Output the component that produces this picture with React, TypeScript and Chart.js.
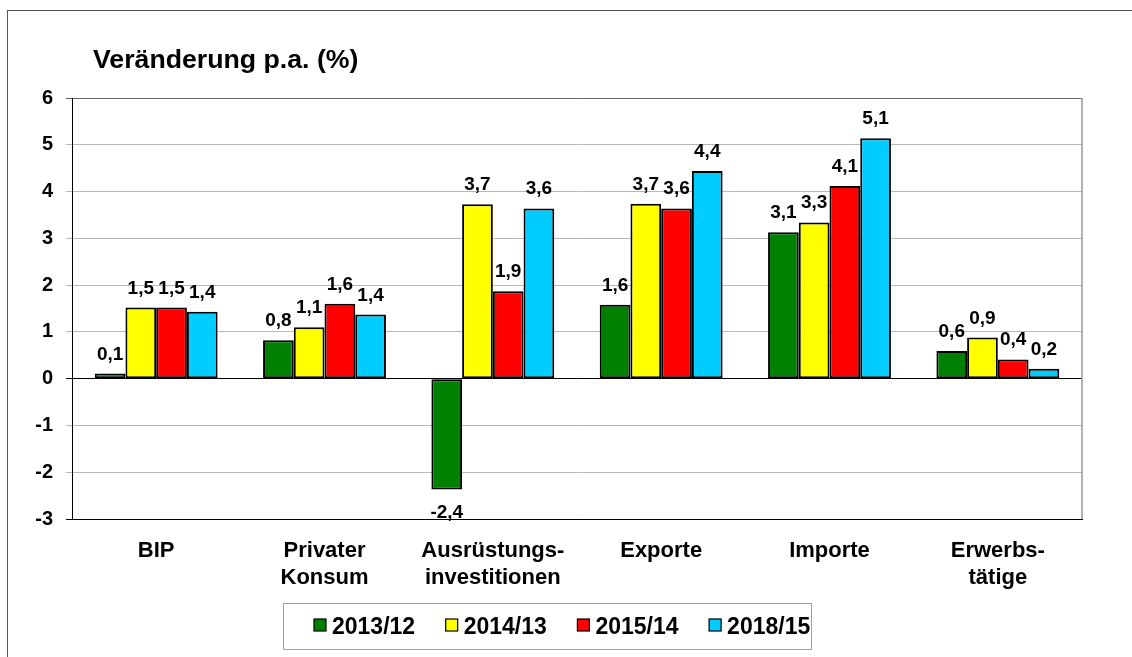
import React, { useEffect, useRef } from 'react';
import { Chart, registerables } from 'chart.js';

Chart.register(...registerables);

const FONT = '"Liberation Sans", Arial, Helvetica, sans-serif';

const titleText = 'Veränderung p.a. (%)';
const categories: (string | string[])[] = [
  'BIP',
  ['Privater', 'Konsum'],
  ['Ausrüstungs-', 'investitionen'],
  'Exporte',
  'Importe',
  ['Erwerbs-', 'tätige'],
];
const seriesLabels = ['2013/12', '2014/13', '2015/14', '2018/15'];
const values2013 = [0.11, 0.82, -2.37, 1.58, 3.13, 0.59];
const values2014 = [1.52, 1.1, 3.73, 3.74, 3.34, 0.88];
const values2015 = [1.52, 1.6, 1.87, 3.64, 4.12, 0.41];
const values2018 = [1.43, 1.37, 3.64, 4.44, 5.14, 0.21];
const seriesColors = ['#008000', '#ffff00', '#ff0000', '#00ccff'];
const yMin = -3;
const yMax = 6;

const fmt = (v: number) => v.toFixed(1).replace('.', ',');

const titlePlugin = {
  id: 'fixedTitle',
  afterDraw(chart: any) {
    const ctx = chart.ctx;
    ctx.save();
    ctx.font = `bold 26.7px ${FONT}`;
    ctx.fillStyle = '#000';
    ctx.textAlign = 'left';
    ctx.textBaseline = 'alphabetic';
    ctx.fillText(titleText, 93, 68);
    ctx.restore();
  },
};

const frameRightPlugin = {
  id: 'rightBorder',
  afterDatasetsDraw(chart: any) {
    const { ctx, chartArea } = chart;
    ctx.save();
    ctx.strokeStyle = '#999';
    ctx.lineWidth = 1.5;
    ctx.beginPath();
    ctx.moveTo(chartArea.right, chartArea.top);
    ctx.lineTo(chartArea.right, chartArea.bottom);
    ctx.stroke();
    ctx.restore();
  },
};

const dataLabelPlugin = {
  id: 'dataLabels',
  afterDatasetsDraw(chart: any) {
    const ctx = chart.ctx;
    ctx.save();
    ctx.font = `bold 19px ${FONT}`;
    ctx.fillStyle = '#000';
    ctx.textAlign = 'center';
    ctx.textBaseline = 'alphabetic';
    chart.data.datasets.forEach((ds: any, i: number) => {
      const meta = chart.getDatasetMeta(i);
      meta.data.forEach((bar: any, j: number) => {
        const v = ds.data[j] as number;
        const y = v >= 0 ? bar.y - 14 : bar.y + 28;
        ctx.fillText(fmt(v), bar.x, y);
      });
    });
    ctx.restore();
  },
};

const boxLegendPlugin = {
  id: 'boxLegend',
  afterDraw(chart: any) {
    const ctx = chart.ctx;
    ctx.save();
    ctx.strokeStyle = '#a0a0a0';
    ctx.lineWidth = 1;
    ctx.strokeRect(283.5, 603.5, 528, 46);
    ctx.font = `bold 23px ${FONT}`;
    ctx.textAlign = 'left';
    ctx.textBaseline = 'alphabetic';
    chart.data.datasets.forEach((ds: any, i: number) => {
      const x = 314 + i * 131.7;
      ctx.fillStyle = ds.backgroundColor;
      ctx.fillRect(x, 619, 12, 12);
      ctx.strokeStyle = '#000';
      ctx.lineWidth = 1.2;
      ctx.strokeRect(x, 619, 12, 12);
      ctx.fillStyle = '#000';
      ctx.fillText(ds.label, x + 18, 634);
    });
    ctx.restore();
  },
};

export default function App() {
  const canvasRef = useRef<HTMLCanvasElement | null>(null);

  useEffect(() => {
    const canvas = canvasRef.current;
    if (!canvas) return;
    const seriesValues = [values2013, values2014, values2015, values2018];
    const chart = new Chart(canvas, {
      type: 'bar',
      data: {
        labels: categories as any,
        datasets: seriesLabels.map((label, i) => ({
          label,
          data: seriesValues[i],
          backgroundColor: seriesColors[i],
          borderColor: '#000',
          borderWidth: 2,
          borderSkipped: false,
          categoryPercentage: 0.73,
          barPercentage: 1,
        })),
      },
      options: {
        responsive: false,
        animation: false,
        devicePixelRatio: 1,
        layout: { padding: { left: 10, right: 50, top: 98, bottom: 58 } },
        plugins: {
          legend: { display: false },
          tooltip: { enabled: false },
          title: { display: false },
        },
        scales: {
          x: {
            grid: { display: false },
            border: { display: true, color: '#000', width: 1 },
            ticks: {
              color: '#000',
              font: { family: FONT, size: 22, weight: 'bold', lineHeight: 1.2 },
              padding: 11,
              maxRotation: 0,
              autoSkip: false,
            },
            afterFit(scale: any) {
              scale.height = 80;
            },
          },
          y: {
            min: yMin,
            max: yMax,
            ticks: {
              stepSize: 1,
              color: '#000',
              font: { family: FONT, size: 20, weight: 'bold' },
              padding: 13,
            },
            grid: {
              tickLength: 6,
              lineWidth: 1,
              color: (c: any) => {
                const v = c.tick ? c.tick.value : null;
                if (v === 0 || v === yMin) return '#000';
                if (v === yMax) return '#666';
                return '#b8b8b8';
              },
            },
            border: { display: true, color: '#000', width: 1 },
            afterFit(scale: any) {
              scale.width = 62;
            },
          },
        },
      },
      plugins: [frameRightPlugin, dataLabelPlugin, titlePlugin, boxLegendPlugin],
    });
    return () => chart.destroy();
  }, []);

  return (
    <div style={{ position: 'fixed', left: 0, top: 0, width: 1132, height: 657, background: '#fff', overflow: 'hidden' }}>
      <div
        style={{
          position: 'absolute',
          left: 7,
          top: 10,
          width: 1140,
          height: 660,
          border: '1px solid #555',
          pointerEvents: 'none',
        }}
      />
      <canvas ref={canvasRef} width={1132} height={657} style={{ position: 'absolute', left: 0, top: 0 }} />
    </div>
  );
}
